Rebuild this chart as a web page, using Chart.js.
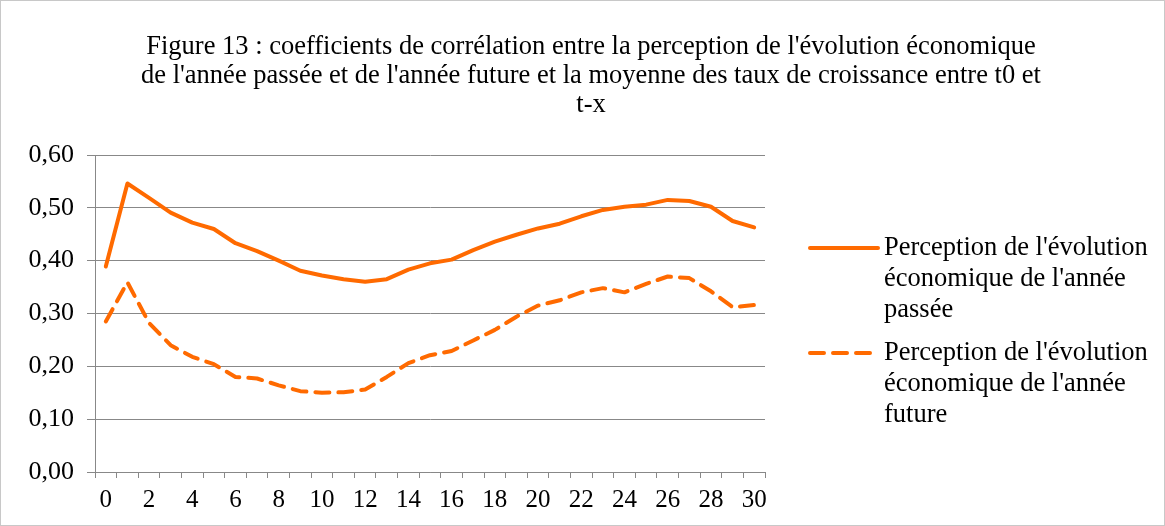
<!DOCTYPE html>
<html>
<head>
<meta charset="utf-8">
<script src="https://cdn.jsdelivr.net/npm/chart.js@4/dist/chart.umd.min.js"></script>
<style>
  html, body { margin: 0; padding: 0; background: #fff; }
  #wrap { width: 1165px; height: 526px; box-sizing: border-box; border: 1px solid #c8c8c8; }
  #chart { display: block; }
</style>
</head>
<body>
<div id="wrap"><canvas id="chart" width="1163" height="524"></canvas></div>
<script>
  var categories = [];
  for (var i = 0; i <= 30; i++) categories.push(String(i));

  var passee = [0.389, 0.546, 0.519, 0.491, 0.472, 0.460, 0.433, 0.418, 0.400, 0.381,
                0.372, 0.365, 0.360, 0.365, 0.383, 0.395, 0.402, 0.420, 0.436, 0.449,
                0.461, 0.470, 0.484, 0.496, 0.502, 0.506, 0.515, 0.513, 0.502, 0.475, 0.463];
  var future = [0.285, 0.359, 0.282, 0.240, 0.218, 0.204, 0.180, 0.177, 0.164, 0.153,
                0.150, 0.151, 0.156, 0.180, 0.206, 0.221, 0.229, 0.249, 0.269, 0.294,
                0.315, 0.325, 0.340, 0.348, 0.340, 0.356, 0.370, 0.367, 0.342, 0.312, 0.316];

  var titleLines = [
    "Figure 13 : coefficients de corrélation entre la perception de l'évolution économique",
    "de l'année passée et de l'année future et la moyenne des taux de croissance entre t0 et",
    "t-x"
  ];
  var legendPassee = ["Perception de l'évolution", "économique de l'année", "passée"];
  var legendFuture = ["Perception de l'évolution", "économique de l'année", "future"];

  var ORANGE = "#ff6a00";
  var GRID = "#888888";
  var FONT = "'Liberation Serif', 'Times New Roman', serif";

  // titre et légende dessinés à la main (libellés sur plusieurs lignes)
  var titleAndLegend = {
    id: "titleAndLegend",
    afterDraw: function (chart) {
      var ctx = chart.ctx;
      ctx.save();
      ctx.fillStyle = "#000";
      ctx.textAlign = "center";
      ctx.textBaseline = "middle";
      ctx.font = "26.5px " + FONT;
      titleLines.forEach(function (t, k) {
        ctx.fillText(t, 590, 46 + k * 29);
      });

      var items = [
        { lines: legendPassee, ds: chart.data.datasets[0], y: 247 },
        { lines: legendFuture, ds: chart.data.datasets[1], y: 352 }
      ];
      items.forEach(function (it) {
        ctx.strokeStyle = it.ds.borderColor;
        ctx.lineWidth = it.ds.borderWidth;
        ctx.lineCap = "round";
        ctx.setLineDash(it.ds.borderDash || []);
        ctx.beginPath();
        ctx.moveTo(809, it.y);
        ctx.lineTo(877, it.y);
        ctx.stroke();
        ctx.setLineDash([]);
        ctx.textAlign = "left";
        ctx.font = "26.5px " + FONT;
        it.lines.forEach(function (t, k) {
          ctx.fillText(t, 883, it.y + k * 31);
        });
      });
      ctx.restore();
    }
  };

  new Chart(document.getElementById("chart"), {
    type: "line",
    data: {
      labels: categories,
      datasets: [
        {
          label: legendPassee.join(" "),
          data: passee,
          borderColor: ORANGE,
          borderWidth: 4,
          borderCapStyle: "round",
          borderJoinStyle: "round",
          pointRadius: 0,
          tension: 0,
          fill: false
        },
        {
          label: legendFuture.join(" "),
          data: future,
          borderColor: ORANGE,
          borderWidth: 4,
          borderDash: [14, 9],
          borderCapStyle: "round",
          borderJoinStyle: "round",
          pointRadius: 0,
          tension: 0,
          fill: false
        }
      ]
    },
    options: {
      responsive: false,
      animation: false,
      layout: { padding: { top: 154, right: 399, bottom: 0, left: 0 } },
      plugins: {
        legend: { display: false },
        title: { display: false },
        tooltip: { enabled: false }
      },
      scales: {
        x: {
          offset: true,
          afterFit: function (s) { s.height = 53; },
          grid: { offset: true, drawOnChartArea: false, drawTicks: true, tickLength: 6, color: GRID },
          border: { color: GRID },
          ticks: {
            autoSkip: false,
            maxRotation: 0,
            padding: 7,
            color: "#000",
            font: { family: FONT, size: 25 },
            callback: function (v, i) { return i % 2 === 0 ? categories[i] : ""; }
          }
        },
        y: {
          min: 0,
          max: 0.6,
          afterFit: function (s) { s.width = 94; },
          grid: { color: GRID, tickLength: 8 },
          border: { color: GRID },
          ticks: {
            stepSize: 0.1,
            padding: 13,
            color: "#000",
            font: { family: FONT, size: 26 },
            callback: function (v) { return v.toFixed(2).replace(".", ","); }
          }
        }
      }
    },
    plugins: [titleAndLegend]
  });
</script>
</body>
</html>
